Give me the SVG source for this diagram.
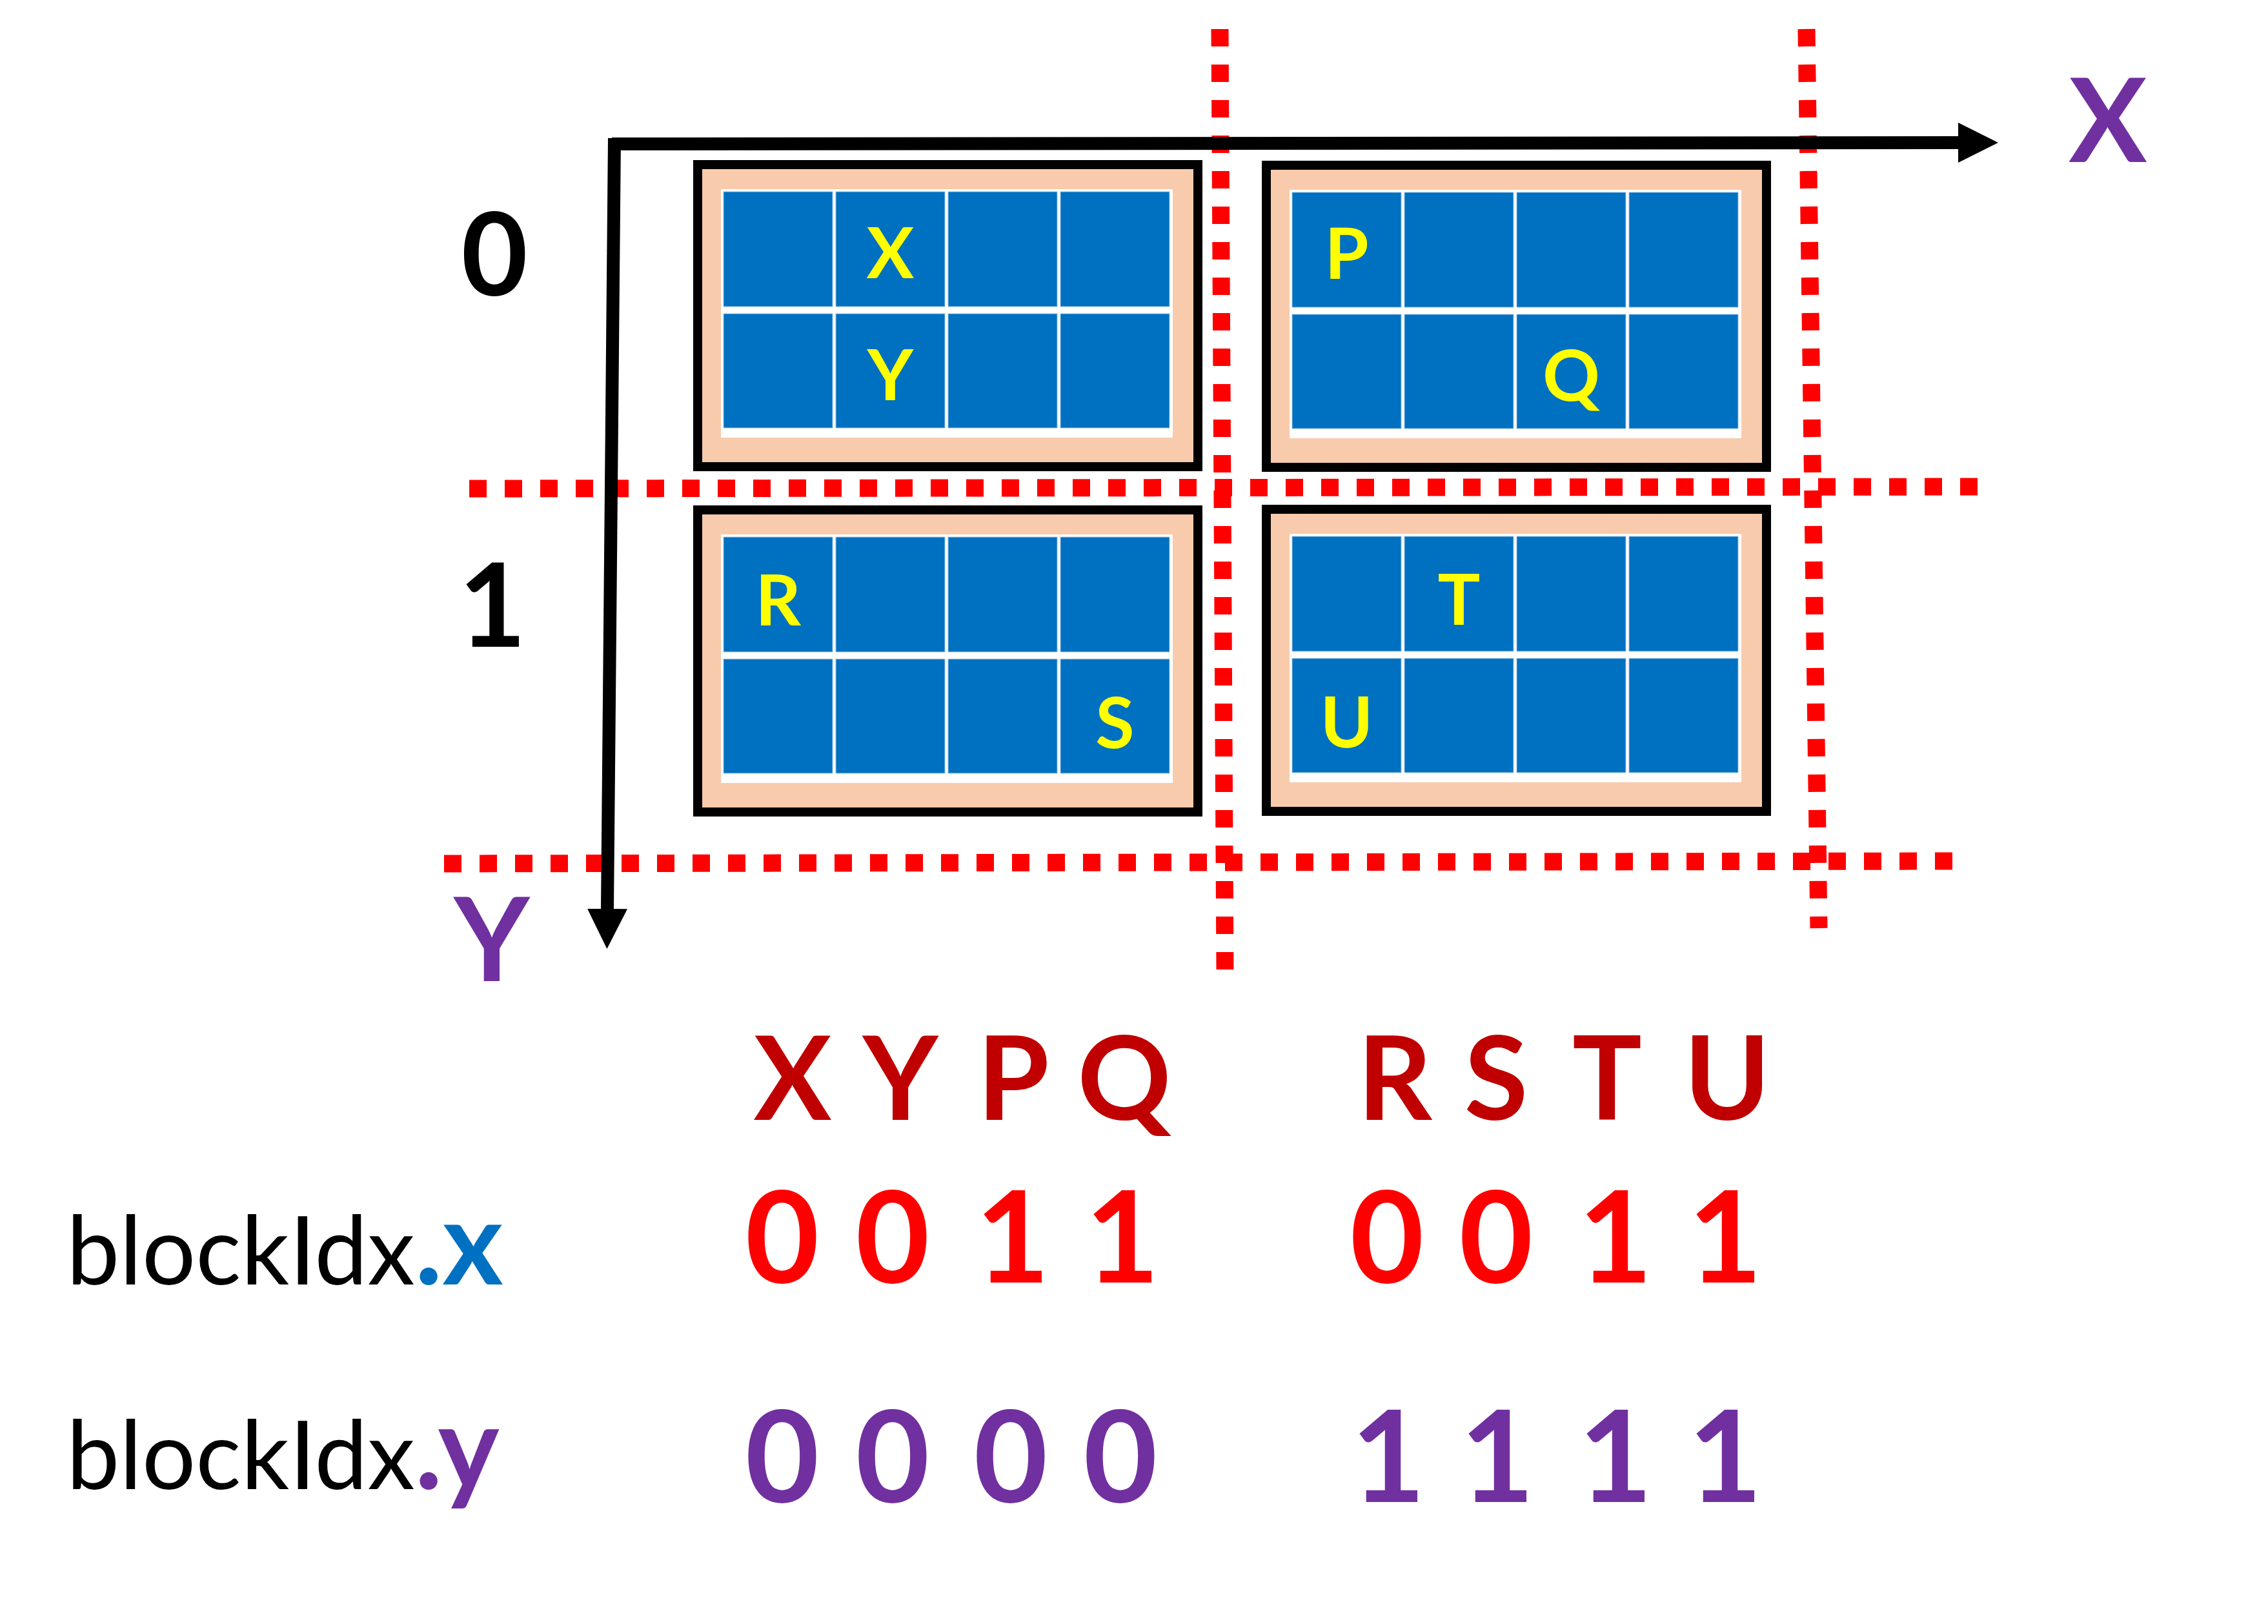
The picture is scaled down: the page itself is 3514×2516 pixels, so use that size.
<svg xmlns="http://www.w3.org/2000/svg" width="3514" height="2516" viewBox="0 0 3514 2516">
<style>
  .frame{fill:#F8CBAD;stroke:#000;stroke-width:14}
  .inner{fill:#FFFFFF}
  .cell{fill:#0070C0;stroke:#9DC3E6;stroke-width:1}
  .cl{font-family:Lato,"Liberation Sans",sans-serif;font-weight:bold;font-size:110px;fill:#FFFF00;text-anchor:middle}
  .axis{stroke:#000;stroke-width:20;fill:none}
  .guide{stroke:#FF0000;stroke-width:27;stroke-dasharray:27 28;fill:none}
  .big{font-family:Lato,"Liberation Sans",sans-serif;font-weight:bold;text-anchor:middle}
  .lbl{font-family:Lato,"Liberation Sans",sans-serif;font-size:147px;fill:#000}
</style>
<defs>
  <marker id="head" markerUnits="strokeWidth" markerWidth="3.1" markerHeight="3.1" refX="0" refY="1.55" orient="auto" viewBox="0 0 3.1 3.1">
    <path d="M0,0 L3.1,1.55 L0,3.1 z" fill="#000"/>
  </marker>
</defs>
<rect x="0" y="0" width="3514" height="2516" fill="#FFFFFF"/>

<g id="block-XY">
  <g transform="translate(1074,248)">
    <rect class="frame" x="7" y="7" width="775" height="468"/>
    <rect class="inner" x="43" y="45" width="700" height="385"/>
    <rect class="cell" x="47" y="49" width="169" height="178"/><rect class="cell" x="221" y="49" width="169" height="178"/><rect class="cell" x="395" y="49" width="169" height="178"/><rect class="cell" x="569" y="49" width="169" height="178"/>
    <rect class="cell" x="47" y="238" width="169" height="177"/><rect class="cell" x="221" y="238" width="169" height="177"/><rect class="cell" x="395" y="238" width="169" height="177"/><rect class="cell" x="569" y="238" width="169" height="177"/>
    <text class="cl" x="305.5" y="183">X</text>
    <text class="cl" x="305.5" y="372">Y</text>
  </g>
</g>
<g id="block-PQ">
  <g transform="translate(1955,249)">
    <rect class="frame" x="7" y="7" width="775" height="468"/>
    <rect class="inner" x="43" y="45" width="700" height="385"/>
    <rect class="cell" x="47" y="49" width="169" height="178"/><rect class="cell" x="221" y="49" width="169" height="178"/><rect class="cell" x="395" y="49" width="169" height="178"/><rect class="cell" x="569" y="49" width="169" height="178"/>
    <rect class="cell" x="47" y="238" width="169" height="177"/><rect class="cell" x="221" y="238" width="169" height="177"/><rect class="cell" x="395" y="238" width="169" height="177"/><rect class="cell" x="569" y="238" width="169" height="177"/>
    <text class="cl" x="131.5" y="183">P</text>
    <text class="cl" x="479.5" y="372">Q</text>
  </g>
</g>
<g id="block-RS">
  <g transform="translate(1074,783)">
    <rect class="frame" x="7" y="7" width="775" height="468"/>
    <rect class="inner" x="43" y="45" width="700" height="385"/>
    <rect class="cell" x="47" y="49" width="169" height="178"/><rect class="cell" x="221" y="49" width="169" height="178"/><rect class="cell" x="395" y="49" width="169" height="178"/><rect class="cell" x="569" y="49" width="169" height="178"/>
    <rect class="cell" x="47" y="238" width="169" height="177"/><rect class="cell" x="221" y="238" width="169" height="177"/><rect class="cell" x="395" y="238" width="169" height="177"/><rect class="cell" x="569" y="238" width="169" height="177"/>
    <text class="cl" x="131.5" y="186">R</text>
    <text class="cl" x="653.5" y="376">S</text>
  </g>
</g>
<g id="block-TU">
  <g transform="translate(1955,782)">
    <rect class="frame" x="7" y="7" width="775" height="468"/>
    <rect class="inner" x="43" y="45" width="700" height="385"/>
    <rect class="cell" x="47" y="49" width="169" height="178"/><rect class="cell" x="221" y="49" width="169" height="178"/><rect class="cell" x="395" y="49" width="169" height="178"/><rect class="cell" x="569" y="49" width="169" height="178"/>
    <rect class="cell" x="47" y="238" width="169" height="177"/><rect class="cell" x="221" y="238" width="169" height="177"/><rect class="cell" x="395" y="238" width="169" height="177"/><rect class="cell" x="569" y="238" width="169" height="177"/>
    <text class="cl" x="305.5" y="186">T</text>
    <text class="cl" x="131.5" y="376">U</text>
  </g>
</g>

<g id="guides">
  <line class="guide" x1="727" y1="757" x2="3064" y2="754"/>
  <line class="guide" x1="688" y1="1338" x2="3025" y2="1334"/>
  <line class="guide" x1="1890" y1="45" x2="1898" y2="1502"/>
  <line class="guide" x1="2799" y1="45" x2="2818" y2="1438"/>
</g>

<g id="connectors">
  <line class="axis" x1="948" y1="223" x2="3034" y2="221" marker-end="url(#head)"/>
  <line class="axis" x1="952" y1="214" x2="941" y2="1408" marker-end="url(#head)"/>
</g>

<g id="axis-labels">
  <text class="big" x="3266" y="251" font-size="181" fill="#7030A0">X</text>
  <text class="big" x="762" y="1520" font-size="181" fill="#7030A0">Y</text>
  <text class="big" x="766" y="458" font-size="178" fill="#000">0</text>
  <text class="big" x="763" y="1002" font-size="180" fill="#000">1</text>
</g>

<g id="table">
  <text class="big" font-size="180" fill="#C00000" x="1228 1395 1570 1742" y="1735">XYPQ</text>
  <text class="big" font-size="180" fill="#C00000" x="2161 2318 2490 2676" y="1735">RSTU</text>
  <text class="lbl" x="103" y="1990">blockIdx<tspan font-weight="bold" font-size="180" fill="#0070C0">.x</tspan></text>
  <text class="lbl" x="103" y="2307">blockIdx<tspan font-weight="bold" font-size="180" fill="#7030A0">.y</tspan></text>
  <text class="big" font-size="198" fill="#FF0000" x="1212 1383 1569 1739" y="1987">0011</text>
  <text class="big" font-size="198" fill="#FF0000" x="2149 2318 2503 2673" y="1987">0011</text>
  <text class="big" font-size="198" fill="#7030A0" x="1212 1383 1566 1736" y="2327">0000</text>
  <text class="big" font-size="198" fill="#7030A0" x="2151 2320 2503 2673" y="2327">1111</text>
</g>
</svg>
